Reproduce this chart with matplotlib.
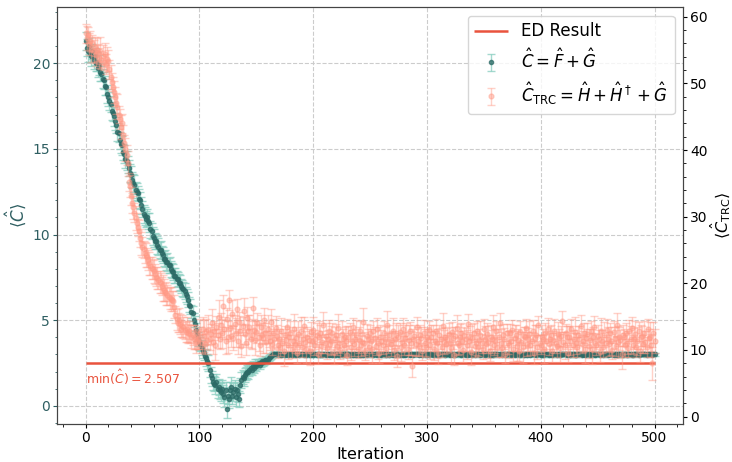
import numpy as np
import matplotlib
matplotlib.use("Agg")
import matplotlib.pyplot as plt

ED_RESULT = 2.507

# <C> for C = F + G, iterations 0-100 (descent)
c_descent = [
    21.3, 20.9, 20.7, 21.0, 20.6, 20.4, 20.7, 20.2, 20.4, 20.0,
    20.1, 19.7, 19.9, 19.5, 19.4, 19.1, 19.0, 18.7, 18.6, 18.2,
    18.0, 17.8, 17.6, 17.2, 17.1, 16.9, 16.6, 16.4, 16.0, 15.9,
    15.5, 15.3, 15.2, 14.8, 14.7, 14.4, 14.3, 14.1, 13.9, 13.6,
    13.5, 13.2, 13.0, 12.9, 12.6, 12.5, 12.4, 12.1, 12.0, 11.7,
    11.5, 11.2, 11.1, 10.9, 11.0, 10.8, 10.7, 10.3, 10.2, 9.9,
    9.8, 9.6, 9.6, 9.4, 9.3, 9.1, 9.1, 8.9, 8.8, 8.6,
    8.6, 8.4, 8.4, 8.2, 8.2, 8.0, 7.9, 7.8, 7.6, 7.6,
    7.4, 7.4, 7.2, 7.2, 7.0, 6.9, 6.8, 6.7, 6.5, 6.4,
    6.2, 5.9, 5.8, 5.5, 5.4, 5.0, 4.8, 4.4, 4.2, 3.9,
    3.7,
]
# iterations 101-170 (dip below the ED value and recovery)
c_dip = [
    3.6, 3.4, 3.2, 3.1, 2.9, 2.8, 2.6, 2.5, 2.1, 1.8,
    1.6, 1.4, 1.3, 1.2, 1.4, 1.0, 1.1, 0.9, 0.8, 1.0,
    0.7, 0.5, 0.9, -0.2, 0.6, 0.4, 0.9, 1.1, 0.6, 0.8,
    1.0, 0.5, 0.9, 0.7, 0.4, 1.2, 1.5, 1.7, 1.6, 1.8,
    1.9, 2.0, 1.95, 2.1, 2.2, 2.1, 2.3, 2.2, 2.4, 2.3,
    2.45, 2.5, 2.4, 2.5, 2.6, 2.55, 2.6, 2.7, 2.65, 2.7,
    2.8, 2.85, 2.9, 2.95, 3.0, 3.05, 3.0, 3.05, 3.02, 3.0,
]
# iterations 171-500 (converged)
c_plateau = [
    3.02, 2.98, 3.04, 3.00, 2.97, 3.03, 3.01, 2.99, 3.05, 3.00,
    2.98, 3.02, 3.00, 3.04, 2.96, 3.01, 3.03, 2.99, 3.00, 3.02,
    3.01, 2.97, 3.03, 2.99, 3.02, 3.00, 2.98, 3.04, 3.01, 2.99,
    3.03, 3.00, 2.98, 3.02, 3.05, 2.99, 3.01, 2.97, 3.02, 3.00,
    2.99, 3.03, 3.01, 2.98, 3.00, 3.04, 2.99, 3.02, 2.96, 3.01,
    3.00, 3.02, 2.99, 3.03, 3.01, 2.98, 3.00, 3.05, 2.99, 3.02,
    3.04, 2.99, 3.01, 3.00, 2.97, 3.02, 3.03, 2.99, 3.01, 3.00,
    2.98, 3.01, 3.03, 2.99, 3.02, 3.00, 2.97, 3.04, 3.00, 3.01,
    3.02, 3.00, 2.98, 3.03, 3.01, 2.99, 3.02, 3.00, 3.05, 2.98,
    3.00, 3.03, 3.01, 2.97, 3.02, 3.00, 2.99, 3.04, 3.01, 2.99,
    3.01, 2.99, 3.02, 3.00, 3.04, 2.98, 3.01, 3.03, 2.99, 3.00,
    2.97, 3.02, 3.00, 3.01, 2.99, 3.03, 3.00, 2.98, 3.02, 3.04,
    3.00, 3.01, 2.99, 3.02, 3.03, 2.98, 3.00, 3.01, 2.97, 3.02,
    3.03, 2.99, 3.01, 3.00, 2.98, 3.02, 3.04, 3.00, 2.99, 3.01,
    2.99, 3.02, 3.00, 3.05, 3.01, 2.98, 3.00, 3.02, 3.01, 2.97,
    3.01, 3.00, 2.98, 3.02, 2.99, 3.03, 3.01, 3.00, 3.04, 2.99,
    3.00, 3.03, 3.01, 2.99, 3.02, 2.97, 3.00, 3.01, 3.03, 2.98,
    3.02, 2.99, 3.00, 3.03, 3.01, 3.00, 2.98, 3.04, 3.00, 3.02,
    2.98, 3.01, 3.03, 3.00, 2.97, 3.02, 3.01, 2.99, 3.00, 3.03,
    3.01, 3.00, 2.99, 3.02, 3.04, 2.99, 3.01, 3.00, 2.98, 3.02,
    3.00, 3.02, 3.01, 2.98, 3.00, 3.03, 2.99, 3.05, 3.01, 3.00,
    3.03, 2.99, 3.00, 3.01, 2.97, 3.02, 3.00, 2.99, 3.02, 3.01,
    2.99, 3.01, 3.04, 3.00, 3.02, 2.98, 3.01, 3.00, 3.03, 2.99,
    3.01, 2.98, 3.00, 3.02, 3.01, 3.04, 2.99, 3.00, 3.02, 2.97,
    3.02, 3.00, 3.01, 2.99, 3.03, 3.00, 2.98, 3.02, 3.01, 3.04,
    3.00, 3.03, 2.99, 3.01, 3.00, 2.98, 3.02, 3.00, 3.03, 2.99,
    2.98, 3.01, 3.02, 3.00, 3.04, 2.99, 3.01, 3.02, 2.97, 3.00,
    3.02, 3.00, 2.99, 3.03, 3.01, 3.00, 3.04, 2.98, 3.01, 3.02,
    3.01, 2.99, 3.00, 3.02, 2.98, 3.03, 3.00, 3.01, 2.99, 3.02,
    3.00, 3.03, 3.01, 2.99, 3.02, 3.00, 2.97, 3.01, 3.04, 3.00,
    3.02, 2.99, 3.01, 3.00, 3.03, 2.98, 3.02, 3.01, 3.00, 2.99,
    2.99, 3.02, 3.00, 3.04, 3.01, 2.98, 3.00, 3.02, 3.03, 3.01,
    3.01, 3.00, 2.98, 3.02, 3.00, 3.03, 3.01, 2.99, 3.02, 3.00,
]
c_err_descent = [
    0.55, 0.50, 0.60, 0.48, 0.52, 0.58, 0.45, 0.55, 0.50, 0.47,
    0.53, 0.49, 0.56, 0.51, 0.46, 0.54, 0.50, 0.58, 0.48, 0.52,
    0.50, 0.55, 0.47, 0.53, 0.49, 0.56, 0.51, 0.45, 0.54, 0.50,
    0.48, 0.52, 0.57, 0.46, 0.51, 0.49, 0.55, 0.50, 0.47, 0.53,
    0.50, 0.46, 0.52, 0.55, 0.48, 0.51, 0.45, 0.54, 0.49, 0.52,
    0.47, 0.50, 0.53, 0.46, 0.51, 0.48, 0.55, 0.49, 0.45, 0.52,
    0.50, 0.47, 0.44, 0.51, 0.48, 0.45, 0.50, 0.46, 0.49, 0.44,
    0.47, 0.45, 0.50, 0.43, 0.46, 0.48, 0.44, 0.47, 0.42, 0.45,
    0.46, 0.43, 0.47, 0.44, 0.42, 0.46, 0.43, 0.45, 0.41, 0.44,
    0.42, 0.45, 0.43, 0.40, 0.44, 0.42, 0.45, 0.41, 0.43, 0.40,
    0.42,
]
c_err_dip = [
    0.40, 0.43, 0.41, 0.44, 0.42, 0.45, 0.43, 0.46, 0.44, 0.47,
    0.45, 0.48, 0.46, 0.50, 0.47, 0.52, 0.49, 0.50, 0.53, 0.48,
    0.51, 0.55, 0.50, 0.52, 0.49, 0.54, 0.51, 0.56, 0.50, 0.53,
    0.48, 0.52, 0.47, 0.50, 0.46, 0.44, 0.45, 0.42, 0.43, 0.40,
    0.38, 0.36, 0.37, 0.34, 0.35, 0.32, 0.33, 0.30, 0.31, 0.28,
    0.27, 0.25, 0.26, 0.24, 0.22, 0.23, 0.21, 0.20, 0.19, 0.18,
    0.17, 0.16, 0.15, 0.14, 0.14, 0.13, 0.12, 0.12, 0.11, 0.11,
]
c_err_plateau = [
    0.10, 0.12, 0.09, 0.11, 0.13, 0.10, 0.08, 0.12, 0.11, 0.09,
    0.12, 0.10, 0.11, 0.09, 0.13, 0.10, 0.12, 0.08, 0.11, 0.10,
    0.09, 0.11, 0.12, 0.10, 0.08, 0.13, 0.10, 0.11, 0.09, 0.12,
    0.11, 0.09, 0.10, 0.12, 0.11, 0.08, 0.13, 0.10, 0.12, 0.09,
    0.10, 0.12, 0.08, 0.11, 0.10, 0.13, 0.09, 0.11, 0.12, 0.10,
    0.12, 0.10, 0.11, 0.09, 0.12, 0.10, 0.08, 0.13, 0.11, 0.10,
    0.09, 0.11, 0.13, 0.10, 0.12, 0.09, 0.11, 0.10, 0.08, 0.12,
    0.11, 0.10, 0.09, 0.12, 0.10, 0.11, 0.13, 0.09, 0.10, 0.12,
    0.10, 0.13, 0.11, 0.09, 0.12, 0.10, 0.11, 0.08, 0.12, 0.10,
    0.12, 0.09, 0.10, 0.11, 0.08, 0.12, 0.10, 0.13, 0.09, 0.11,
    0.11, 0.10, 0.12, 0.09, 0.13, 0.11, 0.10, 0.12, 0.08, 0.10,
    0.09, 0.12, 0.10, 0.11, 0.10, 0.13, 0.09, 0.11, 0.12, 0.10,
    0.10, 0.11, 0.09, 0.13, 0.10, 0.12, 0.11, 0.08, 0.10, 0.12,
    0.13, 0.10, 0.11, 0.09, 0.12, 0.10, 0.08, 0.11, 0.10, 0.12,
    0.10, 0.09, 0.12, 0.11, 0.10, 0.13, 0.10, 0.09, 0.11, 0.12,
    0.12, 0.10, 0.08, 0.11, 0.10, 0.12, 0.09, 0.13, 0.10, 0.11,
    0.09, 0.12, 0.11, 0.10, 0.13, 0.09, 0.10, 0.12, 0.11, 0.08,
    0.11, 0.10, 0.12, 0.09, 0.10, 0.11, 0.13, 0.10, 0.09, 0.12,
    0.10, 0.12, 0.09, 0.11, 0.12, 0.10, 0.08, 0.11, 0.13, 0.10,
    0.12, 0.11, 0.10, 0.08, 0.12, 0.09, 0.11, 0.10, 0.12, 0.13,
    0.09, 0.10, 0.12, 0.11, 0.09, 0.12, 0.10, 0.11, 0.08, 0.12,
    0.11, 0.13, 0.10, 0.09, 0.11, 0.10, 0.12, 0.09, 0.11, 0.10,
    0.10, 0.09, 0.11, 0.12, 0.10, 0.08, 0.12, 0.11, 0.10, 0.13,
    0.12, 0.10, 0.13, 0.09, 0.11, 0.10, 0.09, 0.12, 0.10, 0.11,
    0.09, 0.11, 0.10, 0.12, 0.08, 0.11, 0.13, 0.10, 0.12, 0.09,
    0.11, 0.12, 0.10, 0.09, 0.12, 0.11, 0.10, 0.13, 0.09, 0.10,
    0.13, 0.10, 0.11, 0.12, 0.09, 0.10, 0.12, 0.08, 0.11, 0.10,
    0.10, 0.12, 0.09, 0.10, 0.11, 0.13, 0.10, 0.12, 0.09, 0.11,
    0.12, 0.09, 0.11, 0.10, 0.12, 0.10, 0.08, 0.11, 0.13, 0.10,
    0.10, 0.11, 0.12, 0.09, 0.10, 0.12, 0.11, 0.10, 0.09, 0.13,
    0.11, 0.10, 0.09, 0.12, 0.11, 0.10, 0.13, 0.09, 0.12, 0.10,
    0.09, 0.12, 0.10, 0.11, 0.13, 0.09, 0.10, 0.12, 0.11, 0.10,
    0.12, 0.10, 0.11, 0.09, 0.10, 0.12, 0.11, 0.08, 0.10, 0.11,
]

# <C_TRC> for C_TRC = H + H^dagger + G, iterations 0-99
trc_descent = [
    57.5, 56.8, 57.2, 55.9, 56.4, 55.1, 56.0, 54.8, 55.5, 54.2,
    55.0, 54.6, 53.8, 54.9, 53.5, 54.1, 53.2, 54.4, 52.9, 53.6,
    53.4, 52.1, 51.0, 50.2, 49.4, 48.7, 48.0, 47.0, 46.5, 45.3,
    44.6, 43.5, 44.0, 42.2, 41.0, 40.1, 39.2, 38.0, 35.2, 34.6,
    33.1, 32.0, 31.4, 30.6, 29.8, 29.0, 28.4, 27.9, 26.8, 26.0,
    25.4, 25.1, 24.6, 24.2, 23.9, 23.5, 23.0, 22.6, 22.3, 22.1,
    21.9, 21.4, 21.0, 20.8, 20.5, 20.2, 20.0, 19.6, 19.3, 19.0,
    18.7, 18.5, 18.2, 18.0, 17.8, 17.6, 17.5, 17.4, 16.5, 15.3,
    14.6, 14.1, 14.5, 13.9, 13.2, 13.6, 13.4, 13.0, 12.7, 13.1,
    12.5, 12.8, 12.4, 12.0, 12.3, 11.6, 11.9, 11.2, 11.4, 11.6,
]
# iterations 100-169
trc_hump = [
    11.8, 12.6, 11.0, 13.2, 12.1, 10.9, 12.8, 11.5, 13.0, 11.7,
    12.4, 14.1, 11.2, 12.9, 10.8, 13.5, 12.2, 15.0, 11.6, 13.8,
    12.5, 16.6, 13.1, 11.4, 14.6, 12.0, 17.5, 13.3, 12.1, 15.4,
    11.8, 13.9, 12.6, 16.1, 11.3, 14.2, 12.8, 10.6, 13.6, 15.8,
    12.4, 11.1, 14.8, 12.9, 13.5, 11.7, 12.2, 16.3, 13.0, 11.5,
    12.7, 14.0, 11.9, 10.7, 13.4, 12.3, 11.8, 14.5, 12.6, 11.2,
    13.1, 12.0, 11.4, 14.2, 10.9, 12.5, 11.7, 13.3, 12.1, 10.8,
]
# iterations 170-500
trc_plateau = [
    11.6, 10.4, 12.9, 11.1, 9.8, 12.2, 11.5, 13.4, 10.7, 11.9,
    12.6, 10.2, 11.4, 13.1, 10.9, 11.8, 9.6, 12.4, 11.0, 12.8,
    10.5, 11.7, 13.6, 11.2, 10.1, 12.0, 11.5, 9.9, 12.7, 11.3,
    13.0, 10.8, 11.6, 12.3, 9.4, 11.9, 12.5, 10.6, 11.2, 13.8,
    11.0, 12.1, 10.3, 11.7, 12.9, 10.9, 11.4, 12.6, 9.7, 11.8,
    12.2, 10.6, 13.3, 11.1, 10.0, 12.4, 11.6, 10.8, 12.0, 11.3,
    9.2, 11.9, 12.7, 10.5, 11.4, 13.5, 10.9, 11.7, 12.3, 10.2,
    11.5, 12.8, 10.7, 11.2, 14.2, 11.0, 9.9, 12.1, 11.6, 10.4,
    12.5, 11.3, 10.1, 12.9, 11.8, 10.6, 13.2, 11.1, 9.5, 12.0,
    11.4, 10.8, 12.6, 11.7, 10.3, 13.7, 11.0, 12.2, 10.9, 11.5,
    12.8, 10.0, 11.6, 12.3, 9.1, 11.9, 12.7, 10.5, 11.2, 13.1,
    10.7, 11.8, 12.4, 10.2, 11.5, 12.9, 11.0, 7.6, 11.7, 12.1,
    10.9, 13.4, 11.3, 10.6, 12.2, 11.8, 9.8, 12.6, 11.1, 10.4,
    12.0, 11.5, 13.0, 10.8, 11.9, 12.5, 10.1, 11.4, 12.8, 11.0,
    9.6, 12.3, 11.7, 10.5, 13.6, 11.2, 12.0, 10.9, 11.6, 12.4,
    11.1, 10.3, 12.7, 11.8, 9.3, 12.1, 13.3, 11.0, 10.7, 11.9,
    12.5, 11.4, 10.0, 12.2, 11.6, 10.8, 13.9, 11.3, 12.0, 9.7,
    11.8, 12.6, 10.6, 11.1, 12.9, 10.4, 11.5, 12.3, 11.0, 10.2,
    13.2, 11.7, 10.9, 12.4, 11.2, 9.9, 12.0, 11.6, 13.5, 10.7,
    11.3, 12.8, 10.5, 11.9, 14.1, 11.0, 10.3, 12.2, 11.7, 9.4,
    12.6, 11.1, 10.8, 12.5, 11.4, 13.0, 10.1, 11.8, 12.3, 10.6,
    11.5, 9.8, 12.7, 11.2, 10.4, 12.1, 11.9, 13.3, 10.9, 11.6,
    12.4, 10.7, 11.3, 12.9, 9.6, 11.8, 12.2, 10.5, 13.7, 11.0,
    10.8, 12.0, 11.6, 10.2, 12.6, 11.4, 13.1, 10.9, 11.7, 12.3,
    9.9, 11.5, 12.8, 11.1, 10.6, 12.4, 11.8, 10.3, 12.1, 14.3,
    11.2, 10.7, 12.5, 11.9, 9.5, 12.0, 11.4, 13.2, 10.8, 11.6,
    12.7, 11.0, 10.4, 12.2, 11.7, 13.6, 10.9, 11.3, 12.6, 10.1,
    11.8, 12.4, 10.6, 11.5, 12.9, 10.2, 11.9, 13.4, 11.1, 10.8,
    12.1, 11.6, 9.7, 12.8, 11.3, 10.5, 12.3, 11.0, 13.0, 11.7,
    10.9, 12.5, 11.4, 10.0, 12.7, 11.8, 10.6, 13.8, 11.2, 12.0,
    11.5, 9.4, 12.2, 11.9, 10.7, 12.6, 11.1, 10.3, 12.9, 11.6,
    13.3, 10.8, 11.7, 12.4, 10.5, 11.3, 12.8, 9.8, 11.9, 12.1,
    10.9, 12.5, 11.2, 10.4, 13.1, 11.8, 12.0, 10.7, 8.0, 12.6,
    11.4,
]
trc_err_descent = [
    1.4, 1.8, 1.2, 1.6, 1.5, 1.9, 1.3, 1.7, 1.4, 1.6,
    1.8, 1.3, 1.5, 2.0, 1.4, 1.6, 1.2, 1.7, 1.5, 1.9,
    1.6, 1.4, 1.8, 1.3, 1.5, 1.7, 1.4, 1.6, 1.9, 1.3,
    1.5, 1.8, 1.4, 1.6, 1.3, 1.7, 1.5, 1.9, 1.4, 1.6,
    1.3, 1.5, 1.7, 1.4, 1.8, 1.5, 1.3, 1.6, 1.4, 1.7,
    1.5, 1.3, 1.6, 1.8, 1.4, 1.5, 1.7, 1.3, 1.6, 1.4,
    1.8, 1.5, 1.4, 1.6, 1.3, 1.7, 1.5, 1.4, 1.9, 1.6,
    1.4, 1.7, 1.5, 1.3, 1.6, 1.8, 1.4, 1.5, 1.7, 1.3,
    1.6, 1.4, 1.8, 1.5, 1.3, 1.7, 1.6, 1.4, 1.5, 1.9,
    1.4, 1.6, 1.3, 1.7, 1.5, 1.4, 1.8, 1.6, 1.3, 1.5,
]
trc_err_hump = [
    1.6, 2.1, 1.4, 1.8, 2.4, 1.5, 1.9, 1.3, 2.2, 1.7,
    1.5, 2.0, 1.8, 1.4, 2.3, 1.6, 1.9, 2.5, 1.5, 1.8,
    2.2, 1.6, 1.4, 2.0, 1.7, 2.4, 1.5, 1.9, 1.6, 2.1,
    1.8, 1.4, 2.2, 1.6, 1.9, 1.5, 2.3, 1.7, 1.4, 2.0,
    1.5, 1.9, 1.6, 2.4, 1.8, 1.4, 2.1, 1.7, 1.5, 2.2,
    1.7, 1.5, 2.0, 1.6, 1.9, 1.4, 2.3, 1.8, 1.5, 1.7,
    2.1, 1.6, 1.4, 1.9, 1.7, 2.2, 1.5, 1.8, 1.6, 2.0,
]
trc_err_plateau = [
    1.6, 1.3, 1.9, 1.5, 2.2, 1.4, 1.7, 1.2, 2.0, 1.5,
    1.8, 1.4, 1.6, 2.3, 1.3, 1.7, 1.5, 1.9, 1.4, 2.1,
    1.5, 1.8, 1.3, 1.6, 2.0, 1.4, 1.7, 2.2, 1.5, 1.3,
    1.9, 1.6, 1.4, 1.8, 1.5, 2.4, 1.3, 1.7, 1.6, 1.9,
    1.4, 2.0, 1.7, 1.3, 1.6, 1.5, 2.2, 1.4, 1.8, 1.6,
    1.7, 1.4, 2.1, 1.5, 1.3, 1.9, 1.6, 1.8, 1.4, 2.3,
    1.5, 1.7, 1.4, 2.0, 1.6, 1.3, 1.8, 1.5, 2.2, 1.4,
    1.9, 1.5, 1.6, 1.3, 2.1, 1.7, 1.4, 1.8, 1.6, 1.5,
    1.3, 1.8, 2.0, 1.5, 1.7, 1.4, 1.6, 2.4, 1.5, 1.8,
    1.6, 1.4, 1.7, 1.9, 1.3, 2.2, 1.5, 1.6, 1.8, 1.4,
    2.0, 1.5, 1.3, 1.7, 1.6, 1.9, 1.4, 2.1, 1.5, 1.7,
    1.4, 1.9, 1.6, 1.5, 2.3, 1.3, 1.8, 1.7, 1.4, 1.6,
    1.8, 1.5, 2.2, 1.4, 1.6, 1.7, 1.3, 1.9, 2.0, 1.5,
    1.5, 1.7, 1.4, 2.1, 1.8, 1.3, 1.6, 1.5, 1.9, 2.2,
    1.7, 1.4, 1.6, 1.5, 2.0, 1.8, 1.4, 1.3, 1.7, 1.6,
    1.4, 2.3, 1.5, 1.7, 1.6, 1.4, 1.9, 1.8, 1.3, 2.0,
    1.6, 1.5, 1.8, 1.3, 1.7, 2.2, 1.5, 1.4, 1.6, 1.9,
    2.1, 1.4, 1.6, 1.8, 1.5, 1.3, 1.7, 2.0, 1.4, 1.6,
    1.5, 1.9, 1.3, 1.6, 2.4, 1.5, 1.8, 1.4, 1.7, 1.5,
    1.8, 1.6, 1.5, 1.9, 1.4, 2.1, 1.3, 1.7, 1.6, 1.4,
    1.3, 1.7, 2.0, 1.4, 1.6, 1.5, 1.8, 1.9, 1.5, 2.2,
    1.6, 1.4, 1.7, 1.5, 2.3, 1.4, 1.6, 1.3, 1.8, 1.7,
    1.9, 1.5, 1.4, 1.6, 1.7, 2.0, 1.5, 1.8, 1.4, 1.3,
    1.4, 1.8, 1.6, 2.2, 1.5, 1.3, 1.7, 1.6, 1.9, 1.5,
    1.7, 1.3, 1.9, 1.5, 1.6, 1.8, 1.4, 2.1, 1.5, 1.6,
    1.5, 2.0, 1.4, 1.7, 1.3, 1.6, 2.2, 1.5, 1.8, 1.4,
    2.2, 1.6, 1.5, 1.4, 1.9, 1.7, 1.3, 1.6, 1.5, 2.0,
    1.4, 1.7, 1.8, 1.6, 1.4, 2.3, 1.5, 1.7, 1.4, 1.6,
    1.6, 1.4, 1.5, 2.0, 1.7, 1.5, 1.9, 1.3, 1.6, 1.8,
    1.8, 1.5, 2.1, 1.4, 1.6, 1.7, 1.5, 1.8, 2.4, 1.4,
    1.5, 2.2, 1.6, 1.3, 1.8, 1.5, 1.7, 1.4, 1.6, 2.0,
    1.7, 1.4, 1.6, 1.9, 1.5, 2.1, 1.4, 1.6, 1.8, 1.5,
    1.4, 1.9, 1.7, 1.5, 1.6, 1.4, 2.2, 1.7, 2.5, 1.6,
    1.8,
]

c_values = np.array(c_descent + c_dip + c_plateau)
c_err = np.array(c_err_descent + c_err_dip + c_err_plateau)
trc_values = np.array(trc_descent + trc_hump + trc_plateau)
trc_err = np.array(trc_err_descent + trc_err_hump + trc_err_plateau)
iterations = np.arange(len(c_values))

TEAL = "#2c6a66"
TEAL_LIGHT = "#86cdbf"
SALMON = "#ff9985"
RED = "#e9533d"
AXIS_TEXT = "#2f5f62"

fig = plt.figure(figsize=(7.32, 4.62), dpi=100)
ax1 = fig.add_axes([0.078, 0.083, 0.855, 0.901])
ax2 = ax1.twinx()

ed_line = ax1.hlines(ED_RESULT, iterations[0], iterations[-1], color=RED,
                     linewidth=1.8, zorder=4, label="ED Result")
c_bars = ax1.errorbar(iterations, c_values, yerr=c_err, fmt="o", markersize=3,
                      color=TEAL, ecolor=TEAL_LIGHT, elinewidth=1, capsize=3,
                      alpha=0.75, zorder=3,
                      label=r"$\hat{C} = \hat{F} + \hat{G}$")
ax1.text(iterations[0], ED_RESULT - 0.3, r"$\min(\hat{C}) = 2.507$",
         color=RED, fontsize=9, va="top", ha="left")

trc_bars = ax2.errorbar(iterations, trc_values, yerr=trc_err, fmt="o",
                        markersize=3.5, color=SALMON, ecolor=SALMON,
                        elinewidth=1, capsize=3, alpha=0.45,
                        label=r"$\hat{C}_{\mathrm{TRC}} = \hat{H} + \hat{H}^\dagger + \hat{G}$")

ax1.set_xlim(-25, 525)
ax1.set_ylim(-1.04, 23.26)
ax2.set_ylim(-1.05, 61.4)

ax1.set_xlabel("Iteration", fontsize=11.5, labelpad=2)
ax1.set_ylabel(r"$\langle \hat{C} \rangle$", fontsize=12, color=AXIS_TEXT,
               labelpad=3)
ax2.set_ylabel(r"$\langle \hat{C}_{\mathrm{TRC}} \rangle$", fontsize=11.5,
               labelpad=1)
for ax in (ax1, ax2):
    ax.minorticks_on()
    ax.tick_params(which="major", length=3, pad=2, labelsize=10)
    ax.tick_params(which="minor", length=1.8)
    for spine in ax.spines.values():
        spine.set_color("#444444")
ax1.tick_params(axis="y", which="both", colors=AXIS_TEXT)
ax1.grid(True, which="major", linestyle="--", color="#cccccc", linewidth=0.8)
ax1.set_axisbelow(True)

ax2.legend([ed_line, c_bars, trc_bars],
           [ed_line.get_label(), c_bars.get_label(), trc_bars.get_label()],
           loc="upper right", fontsize=12)

fig.savefig("out.png", dpi=100)
